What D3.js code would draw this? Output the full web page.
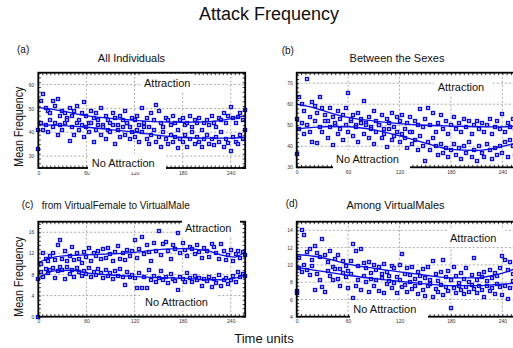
<!DOCTYPE html>
<html>
<head>
<meta charset="utf-8">
<script src="https://cdn.jsdelivr.net/npm/d3@7"></script>
<style>
  body { margin: 0; background: #fff; }
  svg { display: block; font-family: "Liberation Sans", Arial, sans-serif; }
</style>
</head>
<body>
<svg id="chart" width="513" height="348"></svg>
<script>
// sampling times (time units)
const times = [0,3,6,9,12,15,18,21,24,27,30,33,36,39,42,45,48,51,54,57,60,63,66,69,72,75,78,81,84,87,
  90,93,96,99,102,105,108,111,114,117,120,123,126,129,132,135,138,141,144,147,150,153,156,159,162,165,168,171,174,177,
  180,183,186,189,192,195,198,201,204,207,210,213,216,219,222,225,228,231,234,237,240,243,246,249,252,255,258];
const xTicks = [0, 60, 120, 180, 240];
const trendTimes = [0, 20, 40, 60, 90, 120, 150, 180, 210, 230, 245, 258];

// (a) All Individuals
const allAttraction = [41,53,56,50,49,48,53,51,54,47, 49,48,46,50,47,49,51,45,48,52.5,
  47,44,49,46,48,45,50,43,47,45, 44,48,46,43,47,45,49,44,42,46, 45,47,43,50,44,46,42,48,45,51.5,
  49,44,42,46,45,43,47,44,41,45, 46,43,44,47,42,45,44,46,41,44, 45,43,47,44,42,46,45,48,44,47,
  50.5,46,44,46.5,48,45,49.5];
const allNoAttraction = [33,44,41,43,40,45,42,44,39,43, 41,44,45,36.5,42,39,44,41,43,38,
  42,40,44,36,41,43,39,42,37,41, 40,43,35,41,38,42,39,44,37,40, 38,41,36,40,42,37,35,39,41,36,
  38,34,40,37,35,39,36,38,33.5,37, 36,39,34,37,40,35,38,36,34,37, 39,35,37,34.5,38,36,40,34,37,35.5,
  32,38,36,35,39,37,41];
const allTrendAttraction = [50.3,49.5,48.2,47,45.8,45,44.4,44.2,44.4,45.1,46,47];
const allTrendNoAttraction = [43.1,43,42.6,42.1,41.1,40,38.7,37.8,37.5,37.5,37.6,37.9];

// (b) Between the Sexes
const sexesAttraction = [53,63.5,60,57,72,54,61,59,56,63.5, 58,55,52,58,54,50,57,53,55,58,
  65.5,52,55,50,56,53,61.5,51,54,49, 57,52,50,55,48,53,51,56,49,54, 52,55,48,51,54,47,52,50,57.5,49,
  53,58,50,56,47,51,55,48,52,46, 50,54,48,51,47,53,49,52,46,50, 52,48,51,47,50,53,46,49,52,48,
  55.5,47,51,49,53,48,54];
const sexesNoAttraction = [36.5,48,51,46,50,47,42,52,41.5,49, 47,52,44,49,40.5,51,46,48,43,50,
  47,53,45,49,42,51,46,50,44,48, 41,47,50,44,46,39.5,48,43,45,47, 42,46,44,39,47,41,43,38,45,40,
  33,42,38,44,40,36,41,37,39,35, 38,41,36,39,34,40,37,42,35,38, 33,40,37,35,41,38,34,39,36,40,
  37,42,35,43,40,36,44];
const sexesTrendAttraction = [60,58.3,55.8,53.7,52,50.8,50,49.6,49.3,49.2,49.3,49.6];
const sexesTrendNoAttraction = [48.3,49,49.4,49.3,47.8,45,41.5,38.5,38,39,40.4,42];

// (c) from VirtualFemale to VirtualMale
const femaleAttraction = [7.2,10,12,11,10.5,11.5,12,10.8,13.5,14.5, 11,12.5,10.5,11.5,13.3,10.8,12,11,10.2,12.2,
  11.3,13,10.6,12,11.5,12.5,10.9,12.8,11.2,13, 11.8,10.5,12.3,13.4,11,12,10.8,12.6,11.5,12.4,
  14.5,11.2,12.8,15.1,11.8,13.5,12.2,10.6,13.9,12.5, 16.3,11.6,13.8,14.2,12.4,11,13.5,12.8,15.8,12,
  14,12.6,11.5,13.2,12.9,11.8,13.6,12.3,11.2,13, 12.5,11.4,13.8,13.2,12,11,13.7,12.4,10.8,11.6,
  12.6,10.5,11.8,12.5,11.2,12.3,11.7];
const femaleNoAttraction = [0,8.4,7.6,9,8.2,8.8,9.2,7.4,8.6,9.5, 8.8,7.2,9.4,8.1,8.9,7.5,9.2,8.4,7.8,8.7,
  8,9.3,7.6,8.5,7.9,9,8.2,7.4,8.8,7.7, 8.3,7.2,8.6,7.8,9.1,7.5,6.1,8.4,7.6,7.9,
  7.3,5.4,8.2,5.4,7.6,5.4,8.9,7,7.8,6.6, 7.4,8.6,6.9,7.5,6.3,8.1,7.2,6.8,5,7.6,
  7.1,6.6,8.2,7.3,6.5,7.8,6.9,7.4,5.8,7.2, 6.8,7.6,5.7,7.1,6.4,7.9,5.8,6.9,7.3,6.2,
  7,7.8,6.6,8.4,7.5,8.1,7.7];
const femaleTrendAttraction = [10.3,11.3,11.6,11.7,11.9,12.2,12.7,12.9,12.5,11.6,11.3,12.4];
const femaleTrendNoAttraction = [7.3,8.7,8.8,8.3,7.9,7.6,7.4,7.3,7,7,7.3,7.9];

// (d) Among VirtualMales
const malesAttraction = [7,10.8,14,13.5,11.5,11.8,10.6,12.2,11.4,10.9, 13,11.2,10.3,11.6,9.8,10.7,11.1,9.5,10.4,9.9,
  9.3,10.4,12.4,11.6,9.9,11.8,10.2,9.6,10.3,9.1, 10,9.4,9.8,8.9,10.1,9.2,8.7,9.9,9.6,8.6,
  10,11.3,9,9.6,8.8,9.8,8.4,9.2,8.7,9.5, 8.5,9.7,8.3,10.4,8.9,8.1,9.2,10.6,8.6,9.3,
  8.2,9.8,8.7,7.9,9.1,8.4,9.6,8,8.8,10.8, 8.3,8.9,8.6,9.2,8.1,9.4,8.5,9.1,8.7,9.6,
  11,10.6,9.4,10.3,9,9.8,10];
const malesNoAttraction = [6.8,9.6,9.2,10,9.4,8.8,9.9,7.1,9,8.3, 7.4,6.9,9.3,8.7,8.2,9.5,8.4,7.5,9.1,8.6,
  7.3,8.9,6.2,7.5,8.3,7.1,8.7,8,6.9,8.4, 7.6,8.2,7,8.5,6.7,7.8,8.1,7.3,7.9,6.8,
  8.2,7.4,7.7,6.9,8,7.2,7.6,6.6,7.9,7.1, 6.4,7.5,7.8,6.3,7.2,6.9,7.7,6.5,7.4,7,
  5,7.3,6.8,7.6,7.1,6.6,7.4,6.9,7.7,7.2, 6.7,7.5,7.1,6.3,7.6,7,7.3,6.6,7.8,7.4,
  6.5,7.6,6,7.3,8.1,7.5,8.2];
const malesTrendAttraction = [11.2,11,10.6,10.1,9.6,9.2,8.8,8.5,8.5,8.8,9.2,9.7];
const malesTrendNoAttraction = [9.7,9.4,9.1,8.8,8.4,8.1,7.8,7.6,7.6,7.7,7.8,7.9];

const BLUE = '#0a0ae8';
const svg = d3.select('#chart');

const panels = [
  { tag: '(a)', title: 'All Individuals', tagX: 17, tagY: 53, titleX: 131.5, titleY: 61.5, titleAnchor: 'middle', titleSize: 11,
    left: 38.3, right: 245.2, top: 72.7, bottom: 168, yDomain: [25, 65], yTicks: [30, 40, 50, 60], yMinor: 2,
    attr: allAttraction, none: allNoAttraction, trendA: allTrendAttraction, trendN: allTrendNoAttraction,
    labA: { x: 144, y: 86.7, box: [140, 74, 52, 18] }, labN: { x: 91.7, y: 167.3, box: [88, 154, 78, 18] } },
  { tag: '(b)', title: 'Between the Sexes', tagX: 281.7, tagY: 54, titleX: 397, titleY: 61.5, titleAnchor: 'middle', titleSize: 11,
    left: 296.7, right: 517.8, top: 72.7, bottom: 167.3, yDomain: [30, 75], yTicks: [30, 40, 50, 60, 70], yMinor: 2,
    attr: sexesAttraction, none: sexesNoAttraction, trendA: sexesTrendAttraction, trendN: sexesTrendNoAttraction,
    labA: { x: 437.7, y: 90.7, box: [434, 76, 58, 19] }, labN: { x: 336, y: 163.3, box: [333, 150, 77, 19] } },
  { tag: '(c)', title: 'from VirtualFemale to VirtualMale', tagX: 21.7, tagY: 208, titleX: 41.7, titleY: 209.3, titleAnchor: 'start', titleSize: 10,
    left: 38.3, right: 245.2, top: 221.7, bottom: 316.7, yDomain: [0, 18], yTicks: [0, 4, 8, 12, 16], yMinor: 0.8,
    attr: femaleAttraction, none: femaleNoAttraction, trendA: femaleTrendAttraction, trendN: femaleTrendNoAttraction,
    labA: { x: 185, y: 231.7, box: [182, 216, 58, 21] }, labN: { x: 145, y: 305.7, box: [141, 292, 76, 19] } },
  { tag: '(d)', title: 'Among VirtualMales', tagX: 285.7, tagY: 207, titleX: 395.5, titleY: 209.3, titleAnchor: 'middle', titleSize: 11,
    left: 296.7, right: 517.8, top: 221.7, bottom: 316.7, yDomain: [4, 15], yTicks: [4, 6, 8, 10, 12, 14], yMinor: 0.4,
    attr: malesAttraction, none: malesNoAttraction, trendA: malesTrendAttraction, trendN: malesTrendNoAttraction,
    labA: { x: 450, y: 241.7, box: [447, 228, 58, 19] }, labN: { x: 353.3, y: 313.3, box: [350, 300, 78, 19] } }
];

svg.append('text').attr('x', 269).attr('y', 20).attr('text-anchor', 'middle')
  .attr('font-size', 18).attr('fill', '#111').text('Attack Frequency');

[126.7, 276.7].forEach(cy => {
  svg.append('text').attr('transform', `translate(22.5,${cy}) rotate(-90)`)
    .attr('text-anchor', 'middle').attr('font-size', 12).attr('fill', '#111')
    .attr('textLength', 80).attr('lengthAdjust', 'spacingAndGlyphs').text('Mean Frequency');
});

svg.append('text').attr('x', 264).attr('y', 343).attr('text-anchor', 'middle')
  .attr('font-size', 13).attr('fill', '#111').text('Time units');

panels.forEach(p => {
  const x = d3.scaleLinear().domain([0, 258]).range([p.left, p.right]);
  const y = d3.scaleLinear().domain(p.yDomain).range([p.bottom, p.top]);
  const g = svg.append('g');

  g.append('text').attr('x', p.tagX).attr('y', p.tagY).attr('font-size', 10).attr('fill', '#111').text(p.tag);
  g.append('text').attr('x', p.titleX).attr('y', p.titleY).attr('text-anchor', p.titleAnchor)
    .attr('font-size', p.titleSize).attr('fill', '#111').text(p.title);

  // dotted grid
  const grid = g.append('g').attr('stroke', '#a0a0a0').attr('stroke-width', 0.9).attr('stroke-dasharray', '2,2');
  grid.selectAll('.gx').data(xTicks.filter(t => t > 0)).join('line')
    .attr('x1', d => x(d)).attr('x2', d => x(d)).attr('y1', p.top).attr('y2', p.bottom);
  grid.selectAll('.gy').data(p.yTicks.filter(t => t > p.yDomain[0])).join('line')
    .attr('y1', d => y(d)).attr('y2', d => y(d)).attr('x1', p.left).attr('x2', p.right);

  // points: small hollow squares snapped to the pixel grid
  [p.attr, p.none].forEach(series => {
    g.append('g').selectAll('rect').data(series).join('rect')
      .attr('x', (d, i) => Math.round(x(times[i])) - 1.5).attr('y', d => Math.round(y(d)) - 1.5)
      .attr('width', 3).attr('height', 3)
      .attr('fill', '#c8c8ff').attr('stroke', BLUE).attr('stroke-width', 1.3);
  });

  // fitted curves
  const line = d3.line().x((d, i) => x(trendTimes[i])).y(d => y(d)).curve(d3.curveMonotoneX);
  [p.trendA, p.trendN].forEach(tr => {
    g.append('path').datum(tr).attr('d', line).attr('fill', 'none')
      .attr('stroke', BLUE).attr('stroke-width', 1.3);
  });

  // frame with inward minor ticks
  g.append('rect').attr('x', p.left).attr('y', p.top)
    .attr('width', p.right - p.left).attr('height', p.bottom - p.top)
    .attr('fill', 'none').attr('stroke', '#000').attr('stroke-width', 1.8);
  const minorX = d3.range(0, 259, 5);
  const minorY = d3.range(p.yDomain[0], p.yDomain[1] + 1e-6, p.yMinor);
  const tickStyle = sel => { sel.select('.domain').remove(); sel.selectAll('line').attr('stroke', '#000').attr('stroke-width', 0.8); };
  g.append('g').attr('transform', `translate(0,${p.bottom})`)
    .call(d3.axisBottom(x).tickValues(minorX).tickSize(-2.5).tickFormat('')).call(tickStyle);
  g.append('g').attr('transform', `translate(0,${p.top})`)
    .call(d3.axisTop(x).tickValues(minorX).tickSize(-2.5).tickFormat('')).call(tickStyle);
  g.append('g').attr('transform', `translate(${p.left},0)`)
    .call(d3.axisLeft(y).tickValues(minorY).tickSize(-2.5).tickFormat('')).call(tickStyle);
  g.append('g').attr('transform', `translate(${p.right},0)`)
    .call(d3.axisRight(y).tickValues(minorY).tickSize(-2.5).tickFormat('')).call(tickStyle);

  // tick labels
  const labStyle = sel => { sel.select('.domain').remove(); sel.selectAll('text').attr('font-size', 5).attr('fill', '#333').attr('font-family', null); };
  g.append('g').attr('transform', `translate(0,${p.bottom})`)
    .call(d3.axisBottom(x).tickValues(xTicks).tickSize(0).tickPadding(3)).call(labStyle);
  g.append('g').attr('transform', `translate(${p.left},0)`)
    .call(d3.axisLeft(y).tickValues(p.yTicks).tickSize(0).tickPadding(4)).call(labStyle);

  // in-plot labels on white boxes
  [[p.labA, 'Attraction'], [p.labN, 'No Attraction']].forEach(([l, txt]) => {
    g.append('rect').attr('x', l.box[0]).attr('y', l.box[1]).attr('width', l.box[2]).attr('height', l.box[3]).attr('fill', '#fff');
    g.append('text').attr('x', l.x).attr('y', l.y).attr('font-size', 11).attr('fill', '#111').text(txt);
  });
});
</script>
</body>
</html>
